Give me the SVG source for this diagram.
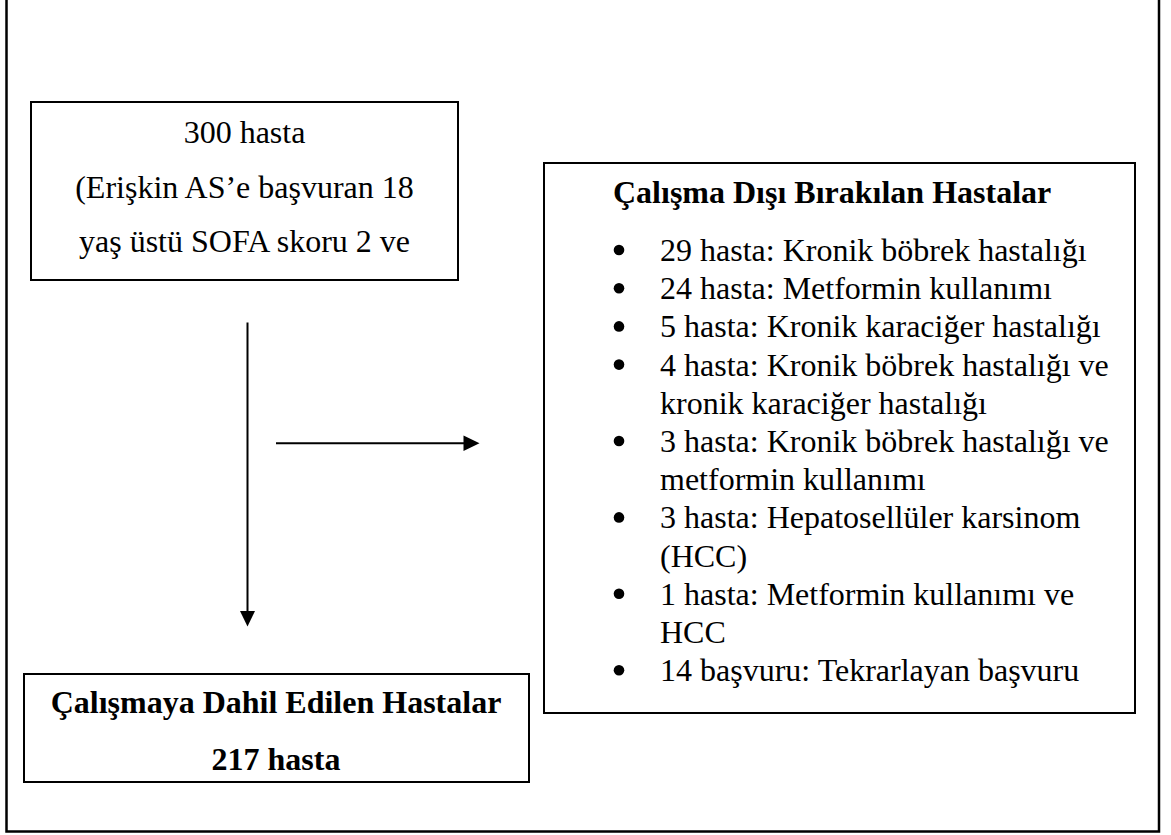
<svg xmlns="http://www.w3.org/2000/svg" width="1171" height="835" viewBox="0 0 1171 835">
<style>
  .box { fill: #ffffff; stroke: #000000; stroke-width: 2; }
  .frame { fill: none; stroke: #000000; stroke-width: 2.5; }
  .t { font-family: "Liberation Serif", "Times New Roman", serif; font-size: 32px; fill: #000000; }
  .b { font-weight: bold; }
  .c { text-anchor: middle; }
  .conn { stroke: #000000; stroke-width: 2; fill: none; }
  .head { fill: #000000; stroke: none; }
</style>
<rect x="0" y="0" width="1171" height="835" fill="#ffffff"/>
<rect class="frame" x="6.5" y="-5" width="1152.5" height="836.5"/>

<g id="node-start">
  <rect class="box" x="31" y="102" width="427" height="178"/>
  <text class="t c" x="244.5" y="143">300 hasta</text>
  <text class="t c" x="244.5" y="198">(Erişkin AS’e başvuran 18</text>
  <text class="t c" x="244.5" y="252">yaş üstü SOFA skoru 2 ve</text>
</g>

<g id="node-excluded">
  <rect class="box" x="544" y="163" width="591" height="550"/>
  <text class="t b" x="613" y="203">Çalışma Dışı Bırakılan Hastalar</text>
  <g id="bullets">
    <circle cx="619" cy="250" r="5.3"/>
    <circle cx="619" cy="288.2" r="5.3"/>
    <circle cx="619" cy="326.4" r="5.3"/>
    <circle cx="619" cy="364.6" r="5.3"/>
    <circle cx="619" cy="441" r="5.3"/>
    <circle cx="619" cy="517.4" r="5.3"/>
    <circle cx="619" cy="593.8" r="5.3"/>
    <circle cx="619" cy="670.2" r="5.3"/>
  </g>
  <text class="t" x="660" y="261">29 hasta: Kronik böbrek hastalığı</text>
  <text class="t" x="660" y="299.2">24 hasta: Metformin kullanımı</text>
  <text class="t" x="660" y="337.4">5 hasta: Kronik karaciğer hastalığı</text>
  <text class="t" x="660" y="375.6">4 hasta: Kronik böbrek hastalığı ve</text>
  <text class="t" x="660" y="413.8">kronik karaciğer hastalığı</text>
  <text class="t" x="660" y="452">3 hasta: Kronik böbrek hastalığı ve</text>
  <text class="t" x="660" y="490.2">metformin kullanımı</text>
  <text class="t" x="660" y="528.4">3 hasta: Hepatosellüler karsinom</text>
  <text class="t" x="660" y="566.6">(HCC)</text>
  <text class="t" x="660" y="604.8">1 hasta: Metformin kullanımı ve</text>
  <text class="t" x="660" y="643">HCC</text>
  <text class="t" x="660" y="681.2">14 başvuru: Tekrarlayan başvuru</text>
</g>

<g id="node-included">
  <rect class="box" x="24" y="674" width="505" height="108"/>
  <text class="t b c" x="276" y="712.5">Çalışmaya Dahil Edilen Hastalar</text>
  <text class="t b c" x="276" y="769.5">217 hasta</text>
</g>

<g id="connectors">
  <line class="conn" x1="247.5" y1="322.5" x2="247.5" y2="612"/>
  <polygon class="head" points="240,611 255,611 247.5,626.5"/>
  <line class="conn" x1="276" y1="443.3" x2="464" y2="443.3"/>
  <polygon class="head" points="463.5,435.5 479.5,443.3 463.5,451.1"/>
</g>
</svg>
